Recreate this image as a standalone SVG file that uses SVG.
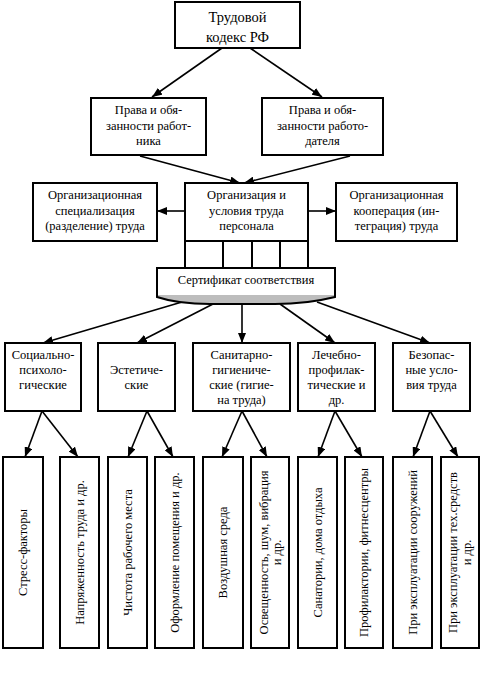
<svg xmlns="http://www.w3.org/2000/svg" width="483" height="694" viewBox="0 0 483 694" font-family="'Liberation Serif', 'Times New Roman', Times, serif">
<style>
.b{fill:#fff;stroke:#000;stroke-width:2}
.t{font-size:12.5px;fill:#000;text-anchor:middle}
.big{font-size:14.5px}
.c{stroke:#000;stroke-width:1.6;fill:none;marker-end:url(#ah)}
</style>
<defs>
<marker id="ah" markerUnits="userSpaceOnUse" markerWidth="10" markerHeight="8" refX="10" refY="4" orient="auto"><path d="M0,0 L10,4 L0,8 Z" fill="#000"/></marker>
</defs>
<rect width="483" height="694" fill="#fff"/>
<g id="connectors">
<line class="c" x1="222" y1="48" x2="152" y2="97"/>
<line class="c" x1="250" y1="48" x2="322" y2="97"/>
<line class="c" x1="140" y1="156" x2="240" y2="183"/>
<line class="c" x1="350" y1="156" x2="244" y2="183"/>
<line class="c" x1="185" y1="211" x2="157" y2="211"/>
<line class="c" x1="308" y1="211" x2="336" y2="211"/>
<line class="c" x1="182" y1="302" x2="43" y2="343"/>
<line class="c" x1="213" y1="304" x2="137" y2="343"/>
<line class="c" x1="242" y1="304" x2="242" y2="343"/>
<line class="c" x1="280" y1="304" x2="335" y2="343"/>
<line class="c" x1="317" y1="302" x2="430" y2="343"/>
<line class="c" x1="42" y1="411" x2="25" y2="457"/>
<line class="c" x1="42" y1="411" x2="78" y2="457"/>
<line class="c" x1="147" y1="411" x2="128" y2="457"/>
<line class="c" x1="147" y1="411" x2="173" y2="457"/>
<line class="c" x1="242" y1="411" x2="222" y2="457"/>
<line class="c" x1="242" y1="411" x2="267" y2="457"/>
<line class="c" x1="335" y1="411" x2="318" y2="457"/>
<line class="c" x1="335" y1="411" x2="362" y2="457"/>
<line class="c" x1="430" y1="411" x2="413" y2="457"/>
<line class="c" x1="430" y1="411" x2="458" y2="457"/>
</g>
<g id="tk"><rect class="b" x="175" y="2" width="125" height="46"/>
<text class="t big" x="237.5" y="22">Трудовой</text><text class="t big" x="237.5" y="42">кодекс РФ</text></g>
<g id="pr1"><rect class="b" x="91" y="98" width="115" height="57"/>
<text class="t" x="148.5" y="114">Права и обя-</text><text class="t" x="148.5" y="130">занности работ-</text><text class="t" x="148.5" y="145">ника</text></g>
<g id="pr2"><rect class="b" x="262" y="98" width="121" height="57"/>
<text class="t" x="322.5" y="114">Права и обя-</text><text class="t" x="322.5" y="130">занности работо-</text><text class="t" x="322.5" y="145">дателя</text></g>
<g id="spec"><rect class="b" x="33" y="183" width="124" height="58"/>
<text class="t" x="95" y="199">Организационная</text><text class="t" x="95" y="215">специализация</text><text class="t" x="95" y="230">(разделение) труда</text></g>
<g id="org"><rect class="b" x="185" y="183" width="123" height="85"/>
<line x1="185" y1="241" x2="308" y2="241" stroke="#000" stroke-width="2"/>
<line x1="223" y1="241" x2="223" y2="268" stroke="#000" stroke-width="2"/>
<line x1="252" y1="241" x2="252" y2="268" stroke="#000" stroke-width="2"/>
<line x1="280" y1="241" x2="280" y2="268" stroke="#000" stroke-width="2"/>
<text class="t" x="246.5" y="199">Организация и</text><text class="t" x="246.5" y="215">условия труда</text><text class="t" x="246.5" y="230">персонала</text></g>
<g id="coop"><rect class="b" x="336" y="183" width="121" height="58"/>
<text class="t" x="396.5" y="199">Организационная</text><text class="t" x="396.5" y="215">кооперация (ин-</text><text class="t" x="396.5" y="230">теграция) труда</text></g>
<g id="cert">
<path d="M157,268 H335 V297 C315,302 295,304 275,304 H210 C190,304 172,302 157,297 Z" fill="#fff"/>
<path d="M158,295 H334 V297 C315,302 295,304 275,304 H210 C190,304 172,302 158,297 Z" fill="#bdbdbd"/>
<path d="M157,268 H335 V297 C315,302 295,304 275,304 H210 C190,304 172,302 157,297 Z" fill="none" stroke="#000" stroke-width="2"/>
<text class="t" x="246" y="284">Сертификат соответствия</text></g>
<g id="k1"><rect class="b" x="5" y="343" width="76" height="68"/>
<text class="t" x="43" y="359">Социально-</text><text class="t" x="43" y="374">психоло-</text><text class="t" x="43" y="389">гические</text></g>
<g id="k2"><rect class="b" x="98" y="343" width="77" height="68"/>
<text class="t" x="136.5" y="374">Эстетиче-</text><text class="t" x="136.5" y="389">ские</text></g>
<g id="k3"><rect class="b" x="193" y="343" width="97" height="68"/>
<text class="t" x="241.5" y="359">Санитарно-</text><text class="t" x="241.5" y="374">гигиениче-</text><text class="t" x="241.5" y="389">ские (гигие-</text><text class="t" x="241.5" y="404">на труда)</text></g>
<g id="k4"><rect class="b" x="298" y="343" width="77" height="68"/>
<text class="t" x="336.5" y="359">Лечебно-</text><text class="t" x="336.5" y="374">профилак-</text><text class="t" x="336.5" y="389">тические и</text><text class="t" x="336.5" y="404">др.</text></g>
<g id="k5"><rect class="b" x="393" y="343" width="77" height="68"/>
<text class="t" x="431.5" y="359">Безопас-</text><text class="t" x="431.5" y="374">ные усло-</text><text class="t" x="431.5" y="389">вия труда</text></g>
<g id="v1"><rect class="b" x="3" y="457" width="40" height="191"/><text class="t" transform="translate(27,552.5) rotate(-90)">Стресс-факторы</text></g>
<g id="v2"><rect class="b" x="60" y="457" width="39" height="191"/><text class="t" transform="translate(83.5,552.5) rotate(-90)">Напряженность труда и др.</text></g>
<g id="v3"><rect class="b" x="108" y="457" width="39" height="191"/><text class="t" transform="translate(131.5,552.5) rotate(-90)">Чистота рабочего места</text></g>
<g id="v4"><rect class="b" x="155" y="457" width="39" height="191"/><text class="t" transform="translate(178.5,552.5) rotate(-90)">Оформление помещения и др.</text></g>
<g id="v5"><rect class="b" x="203" y="457" width="40" height="191"/><text class="t" transform="translate(227,552.5) rotate(-90)">Воздушная среда</text></g>
<g id="v6"><rect class="b" x="251" y="457" width="38" height="191"/><text class="t" transform="translate(267.5,552.5) rotate(-90)">Освещенность, шум, вибрация</text><text class="t" transform="translate(281,552.5) rotate(-90)">и др.</text></g>
<g id="v7"><rect class="b" x="298" y="457" width="39" height="191"/><text class="t" transform="translate(321.5,552.5) rotate(-90)">Санатории, дома отдыха</text></g>
<g id="v8"><rect class="b" x="345" y="457" width="38" height="191"/><text class="t" transform="translate(368,552.5) rotate(-90)">Профилактории, фитнесцентры</text></g>
<g id="v9"><rect class="b" x="393" y="457" width="39" height="191"/><text class="t" transform="translate(416.5,552.5) rotate(-90)">При эксплуатации сооружений</text></g>
<g id="v10"><rect class="b" x="441" y="457" width="38" height="191"/><text class="t" transform="translate(457,552.5) rotate(-90)">При эксплуатации тех.средств</text><text class="t" transform="translate(470.5,552.5) rotate(-90)">и др.</text></g>
</svg>
